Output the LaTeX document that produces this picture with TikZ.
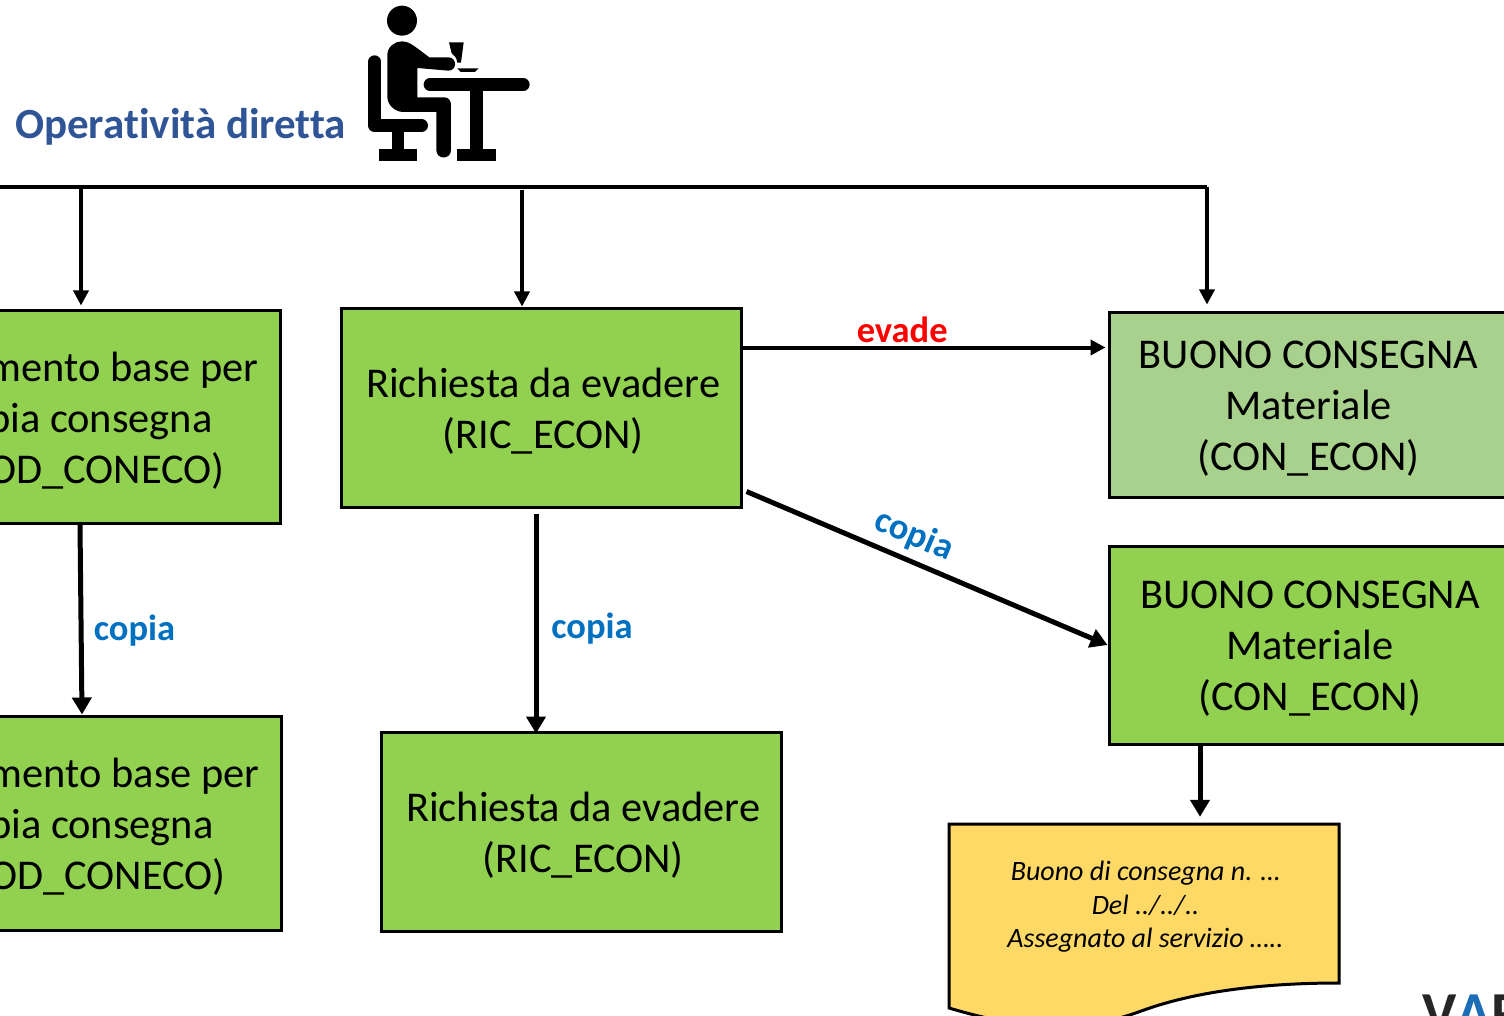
\documentclass[tikz,border=0pt]{standalone}
\usepackage{fontspec}
\setmainfont{Carlito}[Ligatures=NoCommon]
\usepackage{tikz}
\usetikzlibrary{positioning,calc,arrows.meta}
\definecolor{bgreen}{HTML}{92D050}
\definecolor{lgreen}{HTML}{A9D18E}
\definecolor{dyellow}{HTML}{FFD966}
\definecolor{hblue}{HTML}{2F5597}
\definecolor{cblue}{HTML}{0070C0}
\definecolor{vblue}{HTML}{1B6DB5}
\newcommand{\dn}[1]{\raisebox{-1.7pt}{#1}}
\newcommand{\rl}[2]{\dn{\makebox[342pt][r]{#1\hspace{#2}}}}
\newcommand{\mv}[1]{\hspace*{4.5pt}\dn{#1}}

\begin{document}
\begin{tikzpicture}[x=1pt,y=-1pt,
  every node/.style={align=center,inner sep=0pt},%
  bx/.style={rectangle,draw=black,line width=3pt,text depth=0pt,font=\fontsize{42.4}{51}\selectfont},%
  gr/.style={bx,fill=bgreen},%
  lg/.style={bx,fill=lgreen},%
  e/.style={-{Triangle[length=15pt,width=15pt]},line width=3.5pt},%
  ee/.style={-{Triangle[length=15pt,width=15pt]},line width=4pt},%
  eb/.style={-{Triangle[length=17pt,width=19pt]},line width=5pt},%
  lb/.style={font=\fontsize{36.5}{40}\selectfont\bfseries},%
  ]
  \useasboundingbox (0,0) rectangle (1504,1016);
  \clip (0,0) rectangle (1504,1016);

  \node (head) at (15,127) [anchor=west,text=hblue,font=\fontsize{43}{50}\selectfont\bfseries] {Operatività diretta};

  % person at the desk
  \begin{scope}[shift={(340,0)},x=.3333pt,y=-.3333pt]
    \fill (186,62) circle (45);
    \draw [line width=12.7pt,line cap=round,line join=round] (104,185) -- (104,377) -- (245,377);
    \fill (155,390) rectangle (193,450);
    \fill (116,446) rectangle (231,484);
    \draw [line width=12.7pt,line cap=round] (270,254) -- (550,254);
    \fill (391,265) rectangle (429,450);
    \fill (352,446) rectangle (467,484);
    \fill (142,165) .. controls (142,140) and (165,124) .. (186,124)
      .. controls (205,124) and (218,135) .. (236,148) -- (268,172) -- (325,172)
      .. controls (352,172) and (352,212) .. (325,212) -- (232,204) -- (232,292) -- (313,292)
      .. controls (325,292) and (333,302) .. (333,314) -- (333,450)
      .. controls (333,480) and (289,480) .. (289,450) -- (289,336) -- (190,336)
      .. controls (165,336) and (142,315) .. (142,290) -- cycle;
    \fill (327,127) -- (371,127) -- (363,188) -- (352,188) .. controls (350,172) and (342,165) .. (335,160) -- cycle;
    \fill (352,205) -- (416,205) -- (405,216) -- (362,216) -- cycle;
  \end{scope}

  \node (rbase) at (87.5,416.5) [gr,minimum width=386pt,minimum height=213pt] {\rl{mento base per}{0pt}\\\rl{pia consegna}{46pt}\\\rl{OD\_CONECO)}{34pt}};
  \node (cbase) at (88.5,823) [gr,minimum width=386pt,minimum height=214pt] {\rl{mento base per}{0pt}\\\rl{pia consegna}{46pt}\\\rl{OD\_CONECO)}{34pt}};
  \node (ric) at (541,407.5) [gr,minimum width=400pt,minimum height=199pt] {\mv{Richiesta da evadere}\\\mv{(RIC\_ECON)}};
  \node (cric) at (581,831.5) [gr,minimum width=400pt,minimum height=199pt] {\mv{Richiesta da evadere}\\\mv{(RIC\_ECON)}};
  \node (con) at (1308.5,404.5) [lg,minimum width=399pt,minimum height=185pt] {\dn{BUONO CONSEGNA}\\\dn{Materiale}\\\dn{(CON\_ECON)}};
  \node (ccon) at (1310,645) [gr,minimum width=402pt,minimum height=198pt] {\dn{BUONO CONSEGNA}\\\dn{Materiale}\\\dn{(CON\_ECON)}};

  % sheet with the wavy foot
  \draw [draw=black,line width=3pt,fill=dyellow] (949,824) -- (1339,824) -- (1339,983)
    .. controls (1270,983) and (1200,990) .. (1144,1010)
    .. controls (1090,1030) and (1040,1035) .. (949,1008) -- cycle;
  \node (doc) at (1145.5,907) [minimum width=390pt,minimum height=166pt,font=\fontsize{28}{33.5}\selectfont\itshape] {Buono di consegna n. \ldots\\Del ../../..\\Assegnato al servizio \ldots..};

  \node (var) at (1422,1032) [anchor=base west,font=\fontsize{58}{60}\selectfont\bfseries] {\textcolor{black!85}{V}\textcolor{vblue}{A}\textcolor{black!85}{R}};

  \coordinate (top) at (1207,187);
  \coordinate (topl) at (0,187);
  \coordinate (drop) at (522,190);
  \draw [line width=4.5pt] (topl) -- (top);
  \draw [e] (top) -- ([yshift=6pt]con.north -| top);
  \draw [e] (81,187) -- ([yshift=3pt]rbase.north -| 81,0);
  \draw [e] (drop) -- (ric.north -| drop);

  \draw [ee] ([yshift=-41pt]ric.north east) -- node[lb,text=red,above,yshift=3pt,pos=.44] (evade) {evade} ([xshift=-2pt,yshift=-37pt]con.north west);
  \draw [eb] ([xshift=4pt,yshift=17pt]ric.south east) -- (ccon.west);
  \node (cop) at (914,535.5) [lb,text=cblue,rotate=-23] {copia};
  \draw [eb] (rbase.south -| 80,0) -- (cbase.north -| 82,0);
  \node (copl) at (134.5,631) [lb,text=cblue] {copia};
  \draw [eb] ([yshift=-5pt]ric.south -| 536,0) -- ([yshift=-3pt]cric.north -| 536,0);
  \node (copm) at (592,629) [lb,text=cblue] {copia};
  \draw [eb] (ccon.south -| 1200,0) -- ([yshift=7pt]doc.north -| 1200,0);
\end{tikzpicture}
\end{document}
